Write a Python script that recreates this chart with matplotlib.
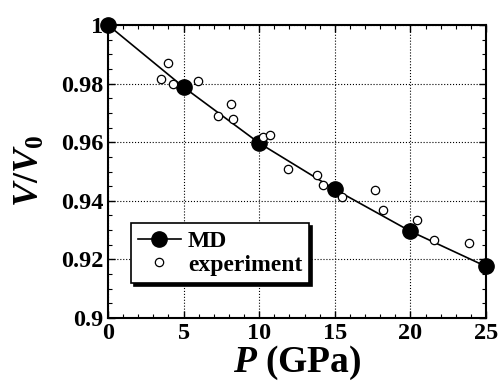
import matplotlib
matplotlib.use('Agg')
import matplotlib.pyplot as plt
from matplotlib.ticker import MultipleLocator

# MD results
md_p = [0, 5, 10, 15, 20, 25]
md_v = [1.0, 0.9788, 0.9597, 0.9439, 0.9296, 0.9176]

# experimental points
exp_p = [3.5, 3.99, 4.32, 5.97, 7.3, 8.11, 8.29, 10.23, 10.71, 11.93,
         13.84, 14.24, 15.46, 17.66, 18.21, 20.46, 21.56, 23.88]
exp_v = [0.9815, 0.9869, 0.9798, 0.981, 0.9689, 0.9729, 0.9678, 0.9618, 0.9626, 0.9507,
         0.9487, 0.9455, 0.9413, 0.9438, 0.9368, 0.9336, 0.9267, 0.9256]

plt.rcParams['font.family'] = ['Liberation Serif', 'DejaVu Serif']
plt.rcParams['font.weight'] = 'bold'
plt.rcParams['axes.labelweight'] = 'bold'
plt.rcParams['mathtext.fontset'] = 'custom'
plt.rcParams['mathtext.it'] = 'Liberation Serif:italic:bold'
plt.rcParams['mathtext.rm'] = 'Liberation Serif:bold'

fig = plt.figure(figsize=(5.0, 3.87), dpi=100)
ax = fig.add_axes([108 / 500, 1 - 318 / 387, 378 / 500, 293 / 387])

ax.plot(md_p, md_v, '-', color='black', lw=1.2, marker='o', ms=11,
        mfc='black', mec='black', label='MD', zorder=3, clip_on=False)
ax.plot(exp_p, exp_v, 'o', ms=6, mfc='white', mec='black', mew=0.9,
        label='experiment', zorder=4, linestyle='none')

ax.set_xlim(0, 25)
ax.set_ylim(0.9, 1.0)
ax.xaxis.set_major_locator(MultipleLocator(5))
ax.xaxis.set_minor_locator(MultipleLocator(1))
ax.yaxis.set_minor_locator(MultipleLocator(0.005))
ax.set_yticks([0.9, 0.92, 0.94, 0.96, 0.98, 1.0])
ax.set_yticklabels(['0.9', '0.92', '0.94', '0.96', '0.98', '1'])

ax.tick_params(which='both', direction='in', top=True, right=True, labelsize=17.5)
ax.tick_params(which='major', length=5, width=1)
ax.tick_params(which='minor', length=3, width=0.8)
for lbl in ax.get_xticklabels() + ax.get_yticklabels():
    lbl.set_fontweight('bold')
for sp in ax.spines.values():
    sp.set_linewidth(1.5)

ax.grid(True, which='major', linestyle=':', color='black', lw=0.8)

ax.set_xlabel(r'$P$ (GPa)', fontsize=27, fontweight='bold', labelpad=0)
ax.set_ylabel(r'$V/V_0$', fontsize=26, labelpad=10)

leg = ax.legend(loc='lower left', bbox_to_anchor=(0.03, 0.08), fontsize=17,
                frameon=True, fancybox=False,
                shadow={'color': 'black', 'alpha': 1.0},
                handlelength=1.8, handletextpad=0.3, borderpad=0.3,
                labelspacing=0.1)
leg.get_frame().set_edgecolor('black')
leg.get_frame().set_linewidth(1.2)

fig.savefig('out.png', dpi=100)
